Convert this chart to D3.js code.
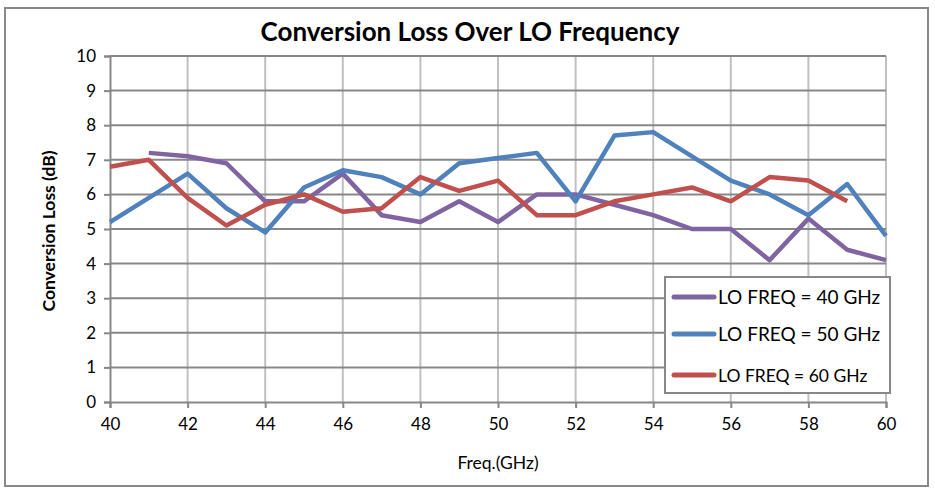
<!DOCTYPE html>
<html>
<head>
<meta charset="utf-8">
<script src="https://cdn.jsdelivr.net/npm/d3@7"></script>
<style>
  body { margin: 0; background: #fff; }
  text { font-family: Lato, "Open Sans", sans-serif; fill: #000; }
</style>
</head>
<body>
<div class="chart"></div>
<script>
const freqs = d3.range(40, 61);
const lo40 = [null, 7.2, 7.1, 6.9, 5.8, 5.8, 6.6, 5.4, 5.2, 5.8, 5.2, 6.0, 6.0, 5.7, 5.4, 5.0, 5.0, 4.1, 5.3, 4.4, 4.1];
const lo50 = [5.2, 5.9, 6.6, 5.6, 4.9, 6.2, 6.7, 6.5, 6.0, 6.9, 7.05, 7.2, 5.8, 7.7, 7.8, 7.1, 6.4, 6.0, 5.4, 6.3, 4.8];
const lo60 = [6.8, 7.0, 5.9, 5.1, 5.7, 6.0, 5.5, 5.6, 6.5, 6.1, 6.4, 5.4, 5.4, 5.8, 6.0, 6.2, 5.8, 6.5, 6.4, 5.8, null];
const xTicks = d3.range(40, 61, 2);
const yTicks = d3.range(0, 11, 1);
const seriesNames = ['LO FREQ = 40 GHz', 'LO FREQ = 50 GHz', 'LO FREQ = 60 GHz'];

const colors = ['#8064A2', '#4F81BD', '#C0504D'];
const W = 935, H = 492;
const margin = { top: 56, right: 49, bottom: 90, left: 110 };
const width = W - margin.left - margin.right;
const height = H - margin.top - margin.bottom;

const svg = d3.select('.chart')
  .append('svg')
    .attr('width', W)
    .attr('height', H);

svg.append('rect')
  .attr('x', 5).attr('y', 8)
  .attr('width', 923).attr('height', 478)
  .attr('fill', '#fff')
  .attr('stroke', '#888').attr('stroke-width', 2);

svg.append('text')
  .attr('x', 470).attr('y', 41)
  .attr('text-anchor', 'middle')
  .style('font-size', '26px').style('font-weight', 'bold')
  .text('Conversion Loss Over LO Frequency');

const g = svg.append('g')
  .attr('transform', `translate(${margin.left}, ${margin.top})`);

const xScale = d3.scaleLinear().domain([40, 60]).range([0, width]);
const yScale = d3.scaleLinear().domain([0, 10]).range([height, 0]);

// vertical grid
g.append('g')
  .selectAll('line')
  .data(xTicks.slice(1))
  .enter()
  .append('line')
    .attr('x1', d => xScale(d)).attr('x2', d => xScale(d))
    .attr('y1', 0).attr('y2', height)
    .attr('stroke', '#c0c0c0').attr('stroke-width', 2);

// horizontal grid
g.append('g')
  .selectAll('line')
  .data(yTicks.slice(1))
  .enter()
  .append('line')
    .attr('x1', 0).attr('x2', width)
    .attr('y1', d => yScale(d)).attr('y2', d => yScale(d))
    .attr('stroke', '#878787').attr('stroke-width', 2);

const xAxis = g.append('g')
  .attr('transform', `translate(0, ${height})`)
  .call(d3.axisBottom(xScale).tickValues(xTicks).tickSize(6).tickPadding(10));

const yAxis = g.append('g')
  .call(d3.axisLeft(yScale).tickValues(yTicks).tickSize(6).tickPadding(8));

[xAxis, yAxis].forEach(a => {
  a.select('.domain').attr('stroke', '#878787').attr('stroke-width', 2);
  a.selectAll('.tick line').attr('stroke', '#878787').attr('stroke-width', 2);
  a.selectAll('.tick text').style('font-size', '17px').style('font-family', 'Lato, sans-serif');
});

svg.append('text')
  .attr('transform', 'translate(55, 231) rotate(-90)')
  .attr('text-anchor', 'middle')
  .style('font-size', '17.5px').style('font-weight', 'bold')
  .text('Conversion Loss (dB)');

svg.append('text')
  .attr('x', 498).attr('y', 469)
  .attr('text-anchor', 'middle')
  .style('font-size', '17.5px')
  .text('Freq.(GHz)');

const line = d3.line()
  .defined(d => d[1] !== null)
  .x(d => xScale(d[0]))
  .y(d => yScale(d[1]));

[lo40, lo50, lo60].forEach((vals, i) => {
  g.append('path')
    .datum(freqs.map((f, j) => [f, vals[j]]))
    .attr('d', line)
    .attr('fill', 'none')
    .attr('stroke', colors[i])
    .attr('stroke-width', 4.5)
    .attr('stroke-linejoin', 'round');
});

// legend
const legend = svg.append('g');
legend.append('rect')
  .attr('x', 665).attr('y', 277)
  .attr('width', 225).attr('height', 116)
  .attr('fill', '#fff')
  .attr('stroke', '#888').attr('stroke-width', 2);

const rows = [297, 334, 375];
seriesNames.forEach((name, i) => {
  legend.append('line')
    .attr('x1', 674).attr('x2', 714)
    .attr('y1', rows[i]).attr('y2', rows[i])
    .attr('stroke', colors[i]).attr('stroke-width', 5)
    .attr('stroke-linecap', 'round');
  legend.append('text')
    .attr('x', 718).attr('y', rows[i] + 7)
    .style('font-size', i < 2 ? '19px' : '17.5px')
    .text(name);
});
</script>
</body>
</html>
